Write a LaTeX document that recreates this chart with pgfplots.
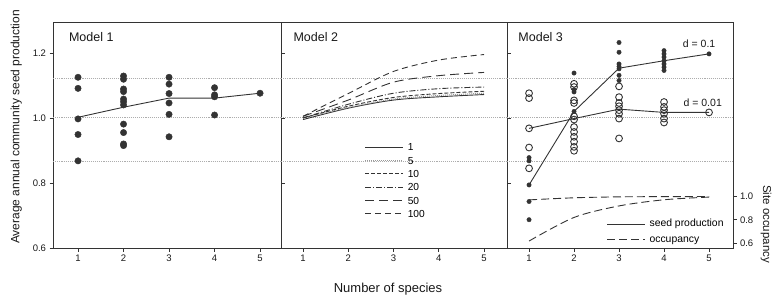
\documentclass[border=0pt]{standalone}
\usepackage{fontspec}
\setmainfont{Liberation Sans}
\usepackage{pgfplots}
\pgfplotsset{compat=1.18}
\definecolor{ink}{gray}{0.2}
\definecolor{refl}{gray}{0.68}
\pgfplotsset{
  panel/.style={
    scale only axis, height=225pt,
    ymin=0.6, ymax=1.292,
    xtick={1,2,3,4,5},
    tick align=outside,
    xtick pos=lower, ytick pos=left,
    major tick length=3.5pt,
    axis line style={ink, line width=1pt},
    tick style={ink, line width=0.8pt},
    tick label style={font=\fontsize{9.5}{9.5}\selectfont, text=black!90},
    /pgf/number format/assume math mode=true,
    clip=false,
    legend cell align=left,
  },
  refline/.style={refl, densely dotted, line width=1.1pt, forget plot},
}
\tikzset{ptitle/.style={anchor=north west, font=\fontsize{12.5}{12.5}\selectfont, text=black!90}}
\begin{document}
\begin{tikzpicture}
\path[use as bounding box] (0,0) rectangle (773pt,297pt);
% ---------------- Panel 1
\begin{axis}[panel, at={(53pt,49pt)}, anchor=south west, width=228pt,
  xmin=0.45, xmax=5.46,
  ytick={0.6,0.8,1.0,1.2},
  yticklabel style={/pgf/number format/fixed, /pgf/number format/fixed zerofill, /pgf/number format/precision=1}]
\addplot[refline] coordinates {(0.45,1.122) (5.46,1.122)};
\addplot[refline] coordinates {(0.45,1.002) (5.46,1.002)};
\addplot[refline] coordinates {(0.45,0.865) (5.46,0.865)};
\addplot[ink, line width=0.9pt] coordinates {(1,1.002) (2,1.033) (3,1.061) (4,1.061) (5,1.076)};
\addplot[only marks, mark=*, mark size=3.2pt, mark options={draw=ink, fill=ink}] coordinates {
 (1,1.125) (1,1.091) (1,0.997) (1,0.949) (1,0.868)
 (2,1.129) (2,1.119) (2,1.089) (2,1.081) (2,1.058) (2,1.050) (2,1.040) (2,0.981) (2,0.955) (2,0.920) (2,0.915)
 (3,1.125) (3,1.104) (3,1.075) (3,1.046) (3,1.011) (3,0.942)
 (4,1.093) (4,1.071) (4,1.065) (4,1.009)
 (5,1.076)};
\node[ptitle] at (rel axis cs:0.055,0.975) {Model 1};
\end{axis}
% ---------------- Panel 2
\begin{axis}[panel, at={(281pt,49pt)}, anchor=south west, width=226pt,
  xmin=0.514, xmax=5.508,
  ytick=\empty, extra y ticks={0.8,1.0,1.2}, extra y tick labels={},
  extra y tick style={tick align=inside},
  legend style={draw=none, fill=none, at={(rel axis cs:0.37,0.478)}, anchor=north west,
    font=\fontsize{10.2}{10.2}\selectfont, row sep=0pt, inner sep=0pt,
    nodes={text height=7.2pt, text depth=0pt, inner ysep=3.05pt, inner xsep=4pt}},
  legend image code/.code={\draw[#1] (0pt,0pt) -- (38pt,0pt);}]
\addplot[refline] coordinates {(0.514,1.122) (5.508,1.122)};
\addplot[refline] coordinates {(0.514,1.002) (5.508,1.002)};
\addplot[refline] coordinates {(0.514,0.865) (5.508,0.865)};
\addplot[ink, line width=0.9pt, smooth] coordinates {(1,0.995) (2,1.030) (3,1.055) (4,1.065) (5,1.072)};
\addlegendentry{1}
\addplot[black!40, densely dotted, line width=1pt, smooth] coordinates {(1,1.0) (2,1.032) (3,1.058) (4,1.069) (5,1.076)};
\addlegendentry{5}
\addplot[ink, dash pattern=on 4pt off 2pt, line width=0.9pt, smooth] coordinates {(1,1.0) (2,1.036) (3,1.063) (4,1.075) (5,1.082)};
\addlegendentry{10}
\addplot[ink, dash pattern=on 6pt off 2pt on 1pt off 2pt, line width=0.9pt, smooth] coordinates {(1,1.0) (2,1.042) (3,1.076) (4,1.090) (5,1.095)};
\addlegendentry{20}
\addplot[ink, dash pattern=on 9pt off 5pt, line width=0.9pt, smooth] coordinates {(1,1.005) (2,1.055) (3,1.110) (4,1.130) (5,1.140)};
\addlegendentry{50}
\addplot[ink, dash pattern=on 6pt off 4pt, line width=0.9pt, smooth] coordinates {(1,1.005) (2,1.075) (3,1.143) (4,1.178) (5,1.195)};
\addlegendentry{100}
\node[ptitle] at (rel axis cs:0.04,0.975) {Model 2};
\end{axis}
% ---------------- Panel 3 (seed production)
\begin{axis}[panel, at={(507pt,49pt)}, anchor=south west, width=226pt,
  xmin=0.51, xmax=5.533,
  ytick=\empty, extra y ticks={0.8,1.0,1.2}, extra y tick labels={},
  extra y tick style={tick align=inside}]
\addplot[refline] coordinates {(0.51,1.122) (5.533,1.122)};
\addplot[refline] coordinates {(0.51,1.002) (5.533,1.002)};
\addplot[refline] coordinates {(0.51,0.865) (5.533,0.865)};
\addplot[ink, line width=0.9pt] coordinates {(1,0.794) (2,1.020) (3,1.153) (4,1.176) (5,1.197)};
\addplot[ink, line width=0.9pt] coordinates {(1,0.968) (2,0.998) (3,1.027) (4,1.017) (5,1.017)};
\addplot[only marks, mark=*, mark size=2.2pt, mark options={draw=ink, fill=ink}] coordinates {
 (1,0.878) (1,0.868) (1,0.794) (1,0.743) (1,0.687)
 (2,1.138) (2,1.087) (2,1.080) (2,1.020)
 (3,1.232) (3,1.202) (3,1.166) (3,1.158) (3,1.151) (3,1.131) (3,1.115)
 (4,1.207) (4,1.197) (4,1.187) (4,1.176) (4,1.166) (4,1.156) (4,1.146)
 (5,1.197)};
\addplot[only marks, mark=o, mark size=3.4pt, mark options={draw=ink, fill=white, line width=0.9pt}] coordinates {
 (1,1.076) (1,1.061) (1,0.968) (1,0.909) (1,0.845)
 (2,1.105) (2,1.095) (2,1.054) (2,1.046) (2,1.005) (2,0.995) (2,0.972) (2,0.957) (2,0.942) (2,0.927) (2,0.911) (2,0.899)
 (3,1.097) (3,1.064) (3,1.046) (3,1.036) (3,1.024) (3,1.013) (3,0.998) (3,0.937)
 (4,1.049) (4,1.034) (4,1.024) (4,1.013) (4,0.998) (4,0.986)
 (5,1.017)};
\node[ptitle] at (rel axis cs:0.035,0.975) {Model 3};
\node[font=\fontsize{10.5}{10.5}\selectfont, text=black!90] at (axis cs:4.78,1.228) {d = 0.1};
\node[font=\fontsize{10.5}{10.5}\selectfont, text=black!90] at (axis cs:4.86,1.046) {d = 0.01};
\end{axis}
% ---------------- Panel 3 (site occupancy, right axis)
\begin{axis}[scale only axis, at={(507pt,49pt)}, anchor=south west, width=226pt, height=225pt,
  xmin=0.51, xmax=5.533, ymin=0.557, ymax=2.493,
  axis x line=none, axis y line*=right,
  ytick={0.6,0.8,1.0}, tick align=outside, major tick length=3.5pt,
  axis line style={ink, line width=1pt},
  tick style={ink, line width=0.8pt},
  tick label style={font=\fontsize{9.5}{9.5}\selectfont, text=black!90},
  yticklabel style={/pgf/number format/fixed, /pgf/number format/fixed zerofill, /pgf/number format/precision=1},
  /pgf/number format/assume math mode=true,
  legend cell align=left,
  legend style={draw=none, fill=none, at={(rel axis cs:0.44,0.142)}, anchor=north west,
    font=\fontsize{10.4}{10.4}\selectfont, row sep=0pt, inner sep=0pt,
    nodes={text height=7.5pt, text depth=2.2pt, inner ysep=3pt, inner xsep=4pt}},
  legend image code/.code={\draw[#1] (0pt,0pt) -- (38pt,0pt);}]
\addlegendimage{ink, line width=0.9pt}
\addlegendentry{seed production}
\addplot[ink, dash pattern=on 8pt off 4pt, line width=0.9pt, smooth] coordinates {(1,0.971) (2,0.989) (3,0.997) (4,0.999) (5,1.0)};
\addlegendentry{occupancy}
\addplot[ink, dash pattern=on 8pt off 4pt, line width=0.9pt, smooth, forget plot] coordinates {(1,0.617) (2,0.820) (3,0.919) (4,0.972) (5,0.995)};
\end{axis}
% ---------------- Outer labels
\node[rotate=90, anchor=base, font=\fontsize{12}{12}\selectfont, text=black!90] at (19.5pt,170pt) {Average annual community seed production};
\node[anchor=base, font=\fontsize{13}{13}\selectfont, text=black!90] at (388pt,4.5pt) {Number of species};
\node[rotate=-90, anchor=base, font=\fontsize{11.5}{11.5}\selectfont, text=black!90] at (763pt,73pt) {Site occupancy};
\end{tikzpicture}
\end{document}
